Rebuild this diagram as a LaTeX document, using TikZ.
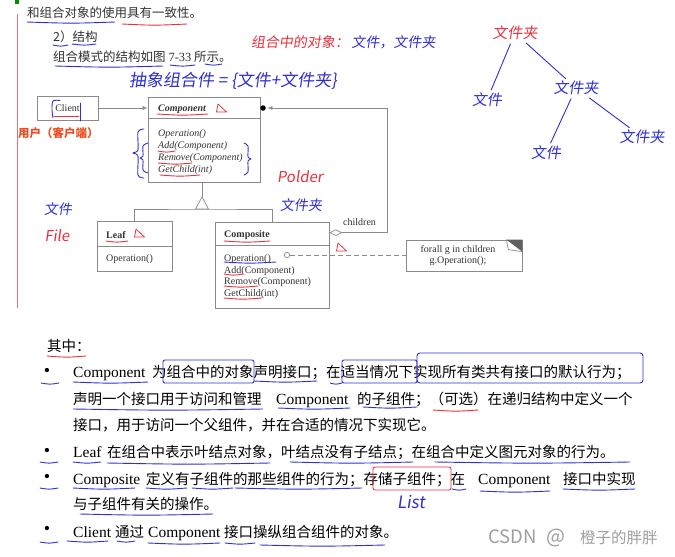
\documentclass[tikz,border=0pt]{standalone}
\usepackage{fontspec}
\setmainfont{Liberation Serif}
\newfontfamily\cjk{Noto Sans CJK SC}
\newfontfamily\hand{Noto Sans CJK SC}[FakeSlant=0.15]
\usetikzlibrary{arrows.meta,calc,positioning}
\definecolor{InkBlue}{HTML}{2F2FD6}
\definecolor{InkRed}{HTML}{E8323E}
\definecolor{UserRed}{HTML}{F04A1E}
\definecolor{LineGray}{HTML}{8A8A8A}
\definecolor{TextGray}{HTML}{333333}
\newcommand{\hul}[4][InkBlue]{\draw[ink,#1] (#2,#4) .. controls ($(#2,#4)!.5!(#3,#4)+(0,1.5)$) .. (#3,#4);}
\newcommand{\redtri}[2]{\draw[tri] (#1,#2) -- ++(-1.5,8) -- ++(10,0) -- cycle;}

\begin{document}
\begin{tikzpicture}[x=1pt,y=-1pt,>={Latex[length=5pt,width=4pt]},
  uml/.style={draw=LineGray,line width=0.7pt,fill=white,inner sep=0pt,text=TextGray,font=\fontsize{10}{12}\selectfont},
  conn/.style={draw=LineGray,line width=0.7pt},
  lbl/.style={anchor=base west,inner sep=0pt,text=TextGray,font=\fontsize{10}{12}\selectfont},
  txt/.style={anchor=base west,inner sep=0pt,text=TextGray,font=\cjk\fontsize{12.5}{14}\selectfont},
  body/.style={anchor=base west,inner sep=0pt,text=black,font=\cjk\fontsize{14.5}{17}\selectfont},
  lat/.style={anchor=base west,inner sep=0pt,text=black,font=\fontsize{15.5}{18}\selectfont},
  hw/.style={inner sep=1pt,font=\hand\fontsize{15}{17}\selectfont},
  ink/.style={InkBlue,line width=0.9pt,line cap=round,line join=round},
  tri/.style={InkRed,line width=0.8pt,line join=round}]
  \useasboundingbox (0,0) rectangle (675,557);
  \fill[white] (0,0) rectangle (675,557);
  \fill[green!55!black] (15,0) rectangle (19,4);
  \draw[InkRed!70,line width=0.8pt] (17,14) -- (17,308);

  \node[txt] (top) at (27,17) {和组合对象的使用具有一致性。};
  \node[txt] (hd) at (53,41.5) {2）结构};
  \node[txt] (intro) at (53,61.5) {组合模式的结构如图 {\rmfamily 7-33} 所示。};
  \hul{27}{115}{22} \hul[InkRed]{122}{187}{24}
  \hul{53}{68}{45} \hul{72}{96}{44}
  \hul{55}{163}{66} \hul{170}{195}{65} \hul{205}{222}{64}

  \node[hw,text=InkRed,anchor=west,font=\hand\fontsize{14}{16}\selectfont] (objs) at (250,42) {组合中的对象：};
  \node[hw,text=InkBlue,right=0pt of objs,font=\hand\fontsize{14}{16}\selectfont] (objv) {文件，文件夹};
  \node[hw,text=InkBlue,anchor=west,font=\hand\fontsize{17}{19}\selectfont] (absc) at (128,81) {抽象组合件 = \{文件+文件夹\}};

  \node[hw,text=InkRed] (rootf) at (515,33) {文件夹};
  \node[hw,text=InkBlue] (fa) at (487,100) {文件};
  \node[hw,text=InkBlue] (da) at (576,88) {文件夹};
  \node[hw,text=InkBlue] (fb) at (546,153) {文件};
  \node[hw,text=InkBlue] (db) at (642,137) {文件夹};
  \draw[ink,shorten <=3pt,shorten >=2pt] (rootf) -- (fa);
  \draw[ink,shorten <=3pt,shorten >=2pt] (rootf) -- (da);
  \draw[ink,shorten <=3pt,shorten >=2pt] (da) -- (fb);
  \draw[ink,shorten <=3pt,shorten >=2pt] (da) -- (db);

  \node[uml,minimum width=61,minimum height=24] (client) at (67.5,108) {Client};
  \node[uml,minimum width=112,minimum height=85] (comp) at (204,139.5) {};
  \draw[conn] ($(comp.north west)+(0,22)$) -- ($(comp.north east)+(0,22)$);
  \node[lbl,font=\bfseries\itshape\fontsize{10}{12}\selectfont] (compn) at (158,111) {Component};
  \foreach \m [count=\i] in {Operation(),Add(Component),Remove(Component),GetChild(int)}
    \node[lbl,font=\itshape\fontsize{10}{12}\selectfont] (cm\i) at (158,124.5+12*\i) {\m};
  \draw[conn,->] (client) -- (client -| comp.west);
  \node[anchor=west,text=UserRed,font=\cjk\bfseries\fontsize{11.5}{13}\selectfont,inner sep=0pt] (user) at (18,133) {用户（客户端）};

  \node[uml,minimum width=75,minimum height=50] (leaf) at (134.5,246) {};
  \draw[conn] (leaf.west) -- (leaf.east);
  \node[lbl,font=\bfseries\fontsize{10}{12}\selectfont] (leafn) at (106,238) {Leaf};
  \node[lbl] (leafm) at (106,261.5) {Operation()};

  \node[uml,minimum width=114,minimum height=86] (compo) at (272,265) {};
  \draw[conn] ($(compo.north west)+(0,24)$) -- ($(compo.north east)+(0,24)$);
  \node[lbl,font=\bfseries\fontsize{10}{12}\selectfont] (compon) at (224,237) {Composite};
  \foreach \m [count=\i] in {Operation(),Add(Component),Remove(Component),GetChild(int)}
    \node[lbl] (km\i) at (224,249.5+11.8*\i) {\m};

  \coordinate (apex) at (202,197);
  \coordinate (gen) at (202,209);
  \draw[conn] (apex |- comp.south) -- (apex);
  \draw[conn] (leaf.north) |- (gen) -| (compo.north);
  \draw[conn,fill=white] ($(gen)+(-6.5,0)$) -- (apex) -- ($(gen)+(6.5,0)$) -- cycle;

  \node[circle,fill=black,inner sep=0pt,minimum size=5.5pt] (dot) at (263,108) {};
  \coordinate (bend) at (387,108);
  \coordinate (agg) at ($(compo.north east)+(0,11)$);
  \draw[conn,{Diamond[open,length=13pt,width=6.5pt]}->,shorten >=1.5pt] (agg) -| (bend) -- (dot);
  \node[lbl] (chl) at (343,225) {children};

  \node[uml,minimum width=116,minimum height=31] (note) at (464,255.5) {};
  \node[align=center,inner sep=0pt,text=TextGray,font=\fontsize{10}{11}\selectfont] (notet) at (458,255.5) {forall g in children\\g.Operation();};
  \fill[gray!75!black] ($(note.north east)+(-16,0)$) -- (note.north east) -- ++(0,12) -- cycle;
  \draw[conn] ($(note.north east)+(-16,0)$) -- ++(2,10) -- ++(14,2);
  \node[circle,draw=LineGray,fill=white,line width=0.7pt,inner sep=0pt,minimum size=5.5pt] (opc) at (287,255) {};
  \draw[conn,dash pattern=on 5pt off 3pt] (opc) -- (opc -| note.west);

  \redtri{218}{104} \redtri{136}{229} \redtri{338}{243}
  \hul[InkRed]{157}{208}{114} \hul[InkRed]{158}{175}{151} \hul[InkRed]{158}{192}{163} \hul[InkRed]{160}{200}{175}
  \hul[InkRed]{106}{128}{241} \hul[InkRed]{224}{270}{241}
  \hul{224}{276}{262} \hul[InkRed]{224}{243}{274} \hul[InkRed]{224}{258}{286} \hul[InkRed]{224}{262}{298}
  \draw[ink] plot[smooth] coordinates {(60,100.5) (53,101) (52,110) (53,118)};
  \draw[ink] (80,103) -- (80,121);
  \draw[ink,InkRed] (54,116) -- (79,116);
  \draw[ink] plot[smooth] coordinates {(144,129) (138,132) (138,150) (133,153) (138,156) (138,175) (144,178)};
  \draw[ink] plot[smooth] coordinates {(148,143) (143,146) (143,156) (140,158) (143,160) (143,170) (148,173)};
  \draw[ink] plot[smooth] coordinates {(244,143) (248,146) (248,157) (251,159) (248,161) (248,172) (244,175)};
  \node[hw,text=InkRed] (polder) at (300,177) {Polder};
  \node[hw,text=InkBlue,font=\hand\fontsize{14}{16}\selectfont] (folderc) at (301,205) {文件夹};
  \node[hw,text=InkBlue,font=\hand\fontsize{14}{16}\selectfont] (lfile) at (58,209) {文件};
  \node[hw,text=InkRed] (lfilee) at (57,236) {File};

  \node[body] (qz) at (47,351) {其中：};
  \hul[InkRed]{47}{86}{356}
  \foreach \y [count=\i] in {372,452,478,530}
    \node[inner sep=0pt,font=\fontsize{18}{20}\selectfont] (b\i) at (47,\y) {\textbullet};
  \node[lat] (t1a) at (73,377) {Component};
  \node[body] (t1b) at (152,377) {为组合中的对象声明接口；在适当情况下实现所有类共有接口的默认行为；};
  \node[body] (t2a) at (73,404) {声明一个接口用于访问和管理};
  \node[lat] (t2b) at (276,404) {Component};
  \node[body] (t2c) at (357,404) {的子组件；（可选）在递归结构中定义一个};
  \node[body] (t3) at (73,430) {接口，用于访问一个父组件，并在合适的情况下实现它。};
  \node[lat] (t4a) at (73,457) {Leaf};
  \node[body] (t4b) at (107,457) {在组合中表示叶结点对象，叶结点没有子结点；在组合中定义图元对象的行为。};
  \node[lat] (t5a) at (73,484) {Composite};
  \node[body] (t5b) at (146,484) {定义有子组件的那些组件的行为；存储子组件；在};
  \node[lat] (t5c) at (478,484) {Component};
  \node[body] (t5d) at (563,484) {接口中实现};
  \node[body] (t6) at (73,509) {与子组件有关的操作。};
  \node[lat] (t7a) at (73,537) {Client};
  \node[body] (t7b) at (115,537) {通过};
  \node[lat] (t7c) at (148,537) {Component};
  \node[body] (t7d) at (224,537) {接口操纵组合组件的对象。};

  \hul{41}{59}{383} \hul{73}{148}{382} \hul{254}{317}{381} \hul{330}{342}{383}
  \draw[ink,rounded corners=2pt] (163,360) rectangle (254,383);
  \draw[ink,rounded corners=2pt] (342,360) rectangle (417,383);
  \draw[ink,rounded corners=3pt] (417,353) rectangle (643,383);
  \hul{73}{263}{409} \hul{278}{350}{408} \hul{363}{417}{407} \hul[InkRed]{433}{478}{410}
  \hul{40}{58}{462} \hul{73}{101}{462} \hul{107}{270}{463} \hul{290}{413}{462} \hul{435}{630}{462}
  \hul{40}{58}{488} \hul{73}{135}{488} \hul{146}{187}{488} \hul{192}{233}{488} \hul{235}{362}{488}
  \hul{452}{466}{489} \hul{480}{550}{491} \hul{563}{635}{489}
  \draw[ink,InkRed,rounded corners=2pt] (373,467) rectangle (451,490);
  \node[hw,text=InkBlue,font=\hand\fontsize{17}{19}\selectfont] (lst) at (411,502) {List};
  \hul{80}{213}{514}
  \hul{40}{58}{542} \hul{67}{108}{541} \hul{117}{135}{541} \hul{148}{220}{543} \hul{225}{255}{543} \hul{260}{385}{545}

  \node[anchor=base west,inner sep=0pt,text=gray!75,font=\cjk\fontsize{18.5}{20}\selectfont] (wm1) at (488,543) {CSDN};
  \node[anchor=base west,inner sep=0pt,text=gray!75,font=\cjk\fontsize{20}{22}\selectfont] (wm2) at (546,543) {@};
  \node[anchor=base west,inner sep=0pt,text=gray!75,font=\cjk\fontsize{15.5}{17}\selectfont] (wm3) at (580,543) {橙子的胖胖};
\end{tikzpicture}
\end{document}
